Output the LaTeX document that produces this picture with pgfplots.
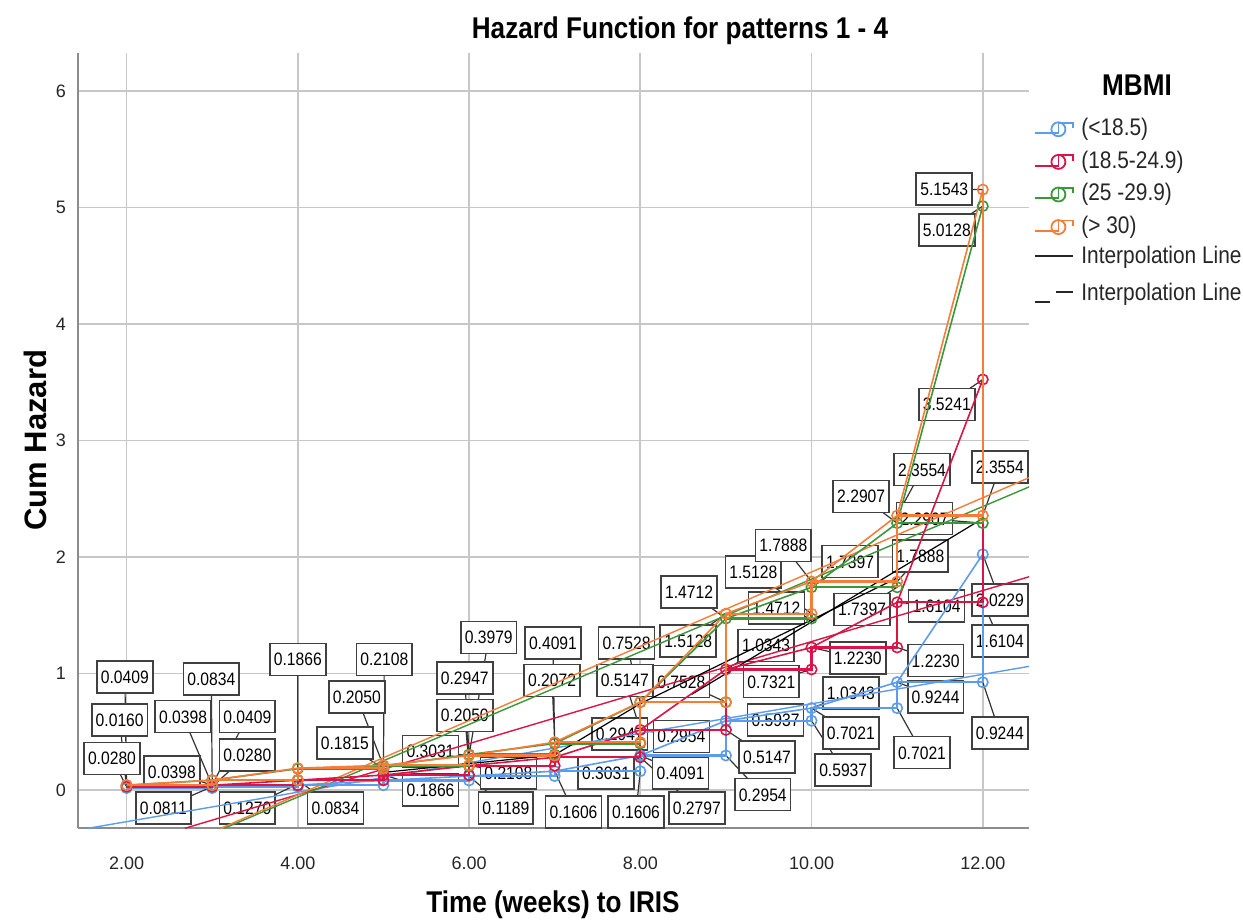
\documentclass[border=0pt]{standalone}
\usepackage{fontspec}
\setmainfont{Liberation Sans}[FakeStretch=0.87]
\newfontfamily\plainfont{Liberation Sans}
\usepackage{pgfplots}
\pgfplotsset{compat=1.18}
\definecolor{cB}{RGB}{93,156,236}
\definecolor{cR}{RGB}{220,20,70}
\definecolor{cG}{RGB}{60,150,60}
\definecolor{cO}{RGB}{245,125,55}
\tikzset{lb/.style={draw=black!75, line width=0.8pt, fill=white,
  font=\fontsize{9}{9}\selectfont, inner xsep=2pt, inner ysep=0pt,
  minimum height=16pt, text height=6.5pt, text depth=0pt}}
\begin{document}
\begin{tikzpicture}
\path[use as bounding box] (-39pt,-46.85pt) rectangle (582.5pt,414.15pt);
\begin{axis}[
  at={(0pt,0pt)}, anchor=south west,
  scale only axis, width=475.5pt, height=387.8pt,
  xmin=1.433, xmax=12.54, ymin=-0.33, ymax=6.33,
  axis x line*=bottom, axis y line*=left,
  axis line style={-, draw=black!45, line width=1pt},
  xtick={2,4,6,8,10,12}, xticklabels={2.00,4.00,6.00,8.00,10.00,12.00},
  ytick={0,1,2,3,4,5,6}, yticklabels={0,1,2,3,4,5,6},
  major tick length=0pt,
  grid=major, major grid style={draw=black!22, line width=0.9pt},
  tick label style={font=\plainfont\fontsize{9}{9}\selectfont, text=black!85},
  xticklabel style={yshift=-11pt},
  yticklabel style={xshift=-2.5pt},
  clip mode=individual,
  /pgf/number format/assume math mode=true,
]
% leader lines (label -> point)
\addplot[black!80, line width=0.6pt, forget plot, unbounded coords=jump] coordinates {
(1.98,0.97)(2,0.0409) (2,nan)
(1.92,0.60)(2,0.016) (2,nan)
(1.83,0.27)(2,0.028) (2,nan)
(2.53,0.155)(3,0.0398) (2,nan)
(2.43,-0.155)(3,0.028) (2,nan)
(2.99,0.95)(3,0.0834) (2,nan)
(2.66,0.63)(3,0.0398) (2,nan)
(3.41,0.63)(3,0.0409) (2,nan)
(3.41,0.30)(3,0.028) (2,nan)
(3.41,-0.155)(4,0.05) (2,nan)
(4.00,1.12)(4,0.1866) (2,nan)
(4.44,-0.155)(4,0.0834) (2,nan)
(5.01,1.12)(5,0.2108) (2,nan)
(4.69,0.80)(5,0.2050) (2,nan)
(4.55,0.40)(5,0.1815) (2,nan)
(5.55,0.33)(6,0.2947) (2,nan)
(5.55,0.0)(5,0.13) (2,nan)
(6.23,1.31)(6,0.2947) (2,nan)
(5.95,0.96)(6,0.30) (2,nan)
(5.95,0.64)(6,0.2050) (2,nan)
(6.46,0.146)(6,0.2108) (2,nan)
(6.43,-0.155)(6,0.1189) (2,nan)
(6.98,1.26)(7,0.4091) (2,nan)
(6.97,0.94)(7,0.4091) (2,nan)
(7.22,-0.19)(7,0.1606) (2,nan)
(7.84,1.26)(8,0.7528) (2,nan)
(7.82,0.94)(8,0.5147) (2,nan)
(7.76,0.48)(8,0.4091) (2,nan)
(7.60,0.146)(8,0.2797) (2,nan)
(7.95,-0.19)(8,0.1606) (2,nan)
(8.47,0.146)(8,0.2954) (2,nan)
(8.66,-0.155)(8,0.2797) (2,nan)
(8.48,0.46)(8,0.5147) (2,nan)
(8.48,0.93)(9,0.7528) (2,nan)
(8.56,1.28)(9,1.5128) (2,nan)
(8.57,1.70)(9,1.4712) (2,nan)
(9.32,1.87)(10,1.5128) (2,nan)
(9.59,1.56)(10,1.4712) (2,nan)
(9.47,1.24)(9,1.0343) (2,nan)
(9.53,0.93)(10,1.0343) (2,nan)
(9.58,0.60)(9,0.5937) (2,nan)
(9.48,0.28)(9,0.5147) (2,nan)
(9.43,-0.04)(9,0.2954) (2,nan)
(9.67,2.10)(10,1.7888) (2,nan)
(10.45,1.96)(10,1.7397) (2,nan)
(10.59,1.55)(11,1.7397) (2,nan)
(10.54,1.13)(10,1.2230) (2,nan)
(10.46,0.83)(10,0.7021) (2,nan)
(10.46,0.49)(10,0.7021) (2,nan)
(10.37,0.17)(10,0.5937) (2,nan)
(10.58,2.52)(11,2.2907) (2,nan)
(11.29,2.75)(11,2.3554) (2,nan)
(11.32,2.33)(12,2.2907) (2,nan)
(11.27,2.01)(11,1.7888) (2,nan)
(11.46,1.58)(11,1.6104) (2,nan)
(11.45,1.11)(11,1.2230) (2,nan)
(11.45,0.80)(11,0.9244) (2,nan)
(11.29,0.32)(11,0.7021) (2,nan)
(11.55,5.16)(12,5.1543) (2,nan)
(11.58,4.81)(12,5.0128) (2,nan)
(11.58,3.31)(12,3.5241) (2,nan)
(12.20,2.77)(12,2.3554) (2,nan)
(12.20,1.63)(12,2.0229) (2,nan)
(12.20,1.28)(12,1.6104) (2,nan)
(12.20,0.49)(12,0.9244)
};
% value labels
\node[lb] at (axis cs:1.98,0.97) {0.0409};
\node[lb] at (axis cs:1.92,0.60) {0.0160};
\node[lb] at (axis cs:1.83,0.27) {0.0280};
\node[lb] at (axis cs:2.53,0.155) {0.0398};
\node[lb] at (axis cs:2.43,-0.155) {0.0811};
\node[lb] at (axis cs:2.99,0.95) {0.0834};
\node[lb] at (axis cs:2.66,0.63) {0.0398};
\node[lb] at (axis cs:3.41,0.63) {0.0409};
\node[lb] at (axis cs:3.41,0.30) {0.0280};
\node[lb] at (axis cs:3.41,-0.155) {0.1270};
\node[lb] at (axis cs:4.00,1.12) {0.1866};
\node[lb] at (axis cs:4.44,-0.155) {0.0834};
\node[lb] at (axis cs:5.01,1.12) {0.2108};
\node[lb] at (axis cs:4.69,0.80) {0.2050};
\node[lb] at (axis cs:4.55,0.40) {0.1815};
\node[lb] at (axis cs:5.55,0.33) {0.3031};
\node[lb] at (axis cs:5.55,0.0) {0.1866};
\node[lb] at (axis cs:6.23,1.31) {0.3979};
\node[lb] at (axis cs:5.95,0.96) {0.2947};
\node[lb] at (axis cs:5.95,0.64) {0.2050};
\node[lb] at (axis cs:6.46,0.146) {0.2108};
\node[lb] at (axis cs:6.43,-0.155) {0.1189};
\node[lb] at (axis cs:6.98,1.26) {0.4091};
\node[lb] at (axis cs:6.97,0.94) {0.2072};
\node[lb] at (axis cs:7.22,-0.19) {0.1606};
\node[lb] at (axis cs:7.84,1.26) {0.7528};
\node[lb] at (axis cs:7.82,0.94) {0.5147};
\node[lb] at (axis cs:7.76,0.48) {0.2947};
\node[lb] at (axis cs:7.60,0.146) {0.3031};
\node[lb] at (axis cs:7.95,-0.19) {0.1606};
\node[lb] at (axis cs:8.47,0.146) {0.4091};
\node[lb] at (axis cs:8.66,-0.155) {0.2797};
\node[lb] at (axis cs:8.48,0.46) {0.2954};
\node[lb] at (axis cs:8.48,0.93) {0.7528};
\node[lb] at (axis cs:8.56,1.28) {1.5128};
\node[lb] at (axis cs:8.57,1.70) {1.4712};
\node[lb] at (axis cs:9.32,1.87) {1.5128};
\node[lb] at (axis cs:9.59,1.56) {1.4712};
\node[lb] at (axis cs:9.47,1.24) {1.0343};
\node[lb] at (axis cs:9.53,0.93) {0.7321};
\node[lb] at (axis cs:9.58,0.60) {0.5937};
\node[lb] at (axis cs:9.48,0.28) {0.5147};
\node[lb] at (axis cs:9.43,-0.04) {0.2954};
\node[lb] at (axis cs:9.67,2.10) {1.7888};
\node[lb] at (axis cs:10.45,1.96) {1.7397};
\node[lb] at (axis cs:10.59,1.55) {1.7397};
\node[lb] at (axis cs:10.54,1.13) {1.2230};
\node[lb] at (axis cs:10.46,0.83) {1.0343};
\node[lb] at (axis cs:10.46,0.49) {0.7021};
\node[lb] at (axis cs:10.37,0.17) {0.5937};
\node[lb] at (axis cs:10.58,2.52) {2.2907};
\node[lb] at (axis cs:11.29,2.75) {2.3554};
\node[lb] at (axis cs:11.32,2.33) {2.2907};
\node[lb] at (axis cs:11.27,2.01) {1.7888};
\node[lb] at (axis cs:11.46,1.58) {1.6104};
\node[lb] at (axis cs:11.45,1.11) {1.2230};
\node[lb] at (axis cs:11.45,0.80) {0.9244};
\node[lb] at (axis cs:11.29,0.32) {0.7021};
\node[lb] at (axis cs:11.55,5.16) {5.1543};
\node[lb] at (axis cs:11.58,4.81) {5.0128};
\node[lb] at (axis cs:11.58,3.31) {3.5241};
\node[lb] at (axis cs:12.20,2.77) {2.3554};
\node[lb] at (axis cs:12.20,1.63) {2.0229};
\node[lb] at (axis cs:12.20,1.28) {1.6104};
\node[lb] at (axis cs:12.20,0.49) {0.9244};
% fitted straight lines
\addplot[cB, line width=0.7pt, forget plot] coordinates {(1.55,-0.33)(12.6,1.068)};
\addplot[cR, line width=0.7pt, forget plot] coordinates {(2.68,-0.33)(12.6,1.843)};
\addplot[cG, line width=0.7pt, forget plot] coordinates {(3.14,-0.33)(12.6,2.62)};
\addplot[cO, line width=0.7pt, forget plot] coordinates {(3.10,-0.33)(12.6,2.70)};
% black interpolation lines
\addplot[black, line width=0.6pt, forget plot] coordinates {(5.0,0.15)(7.0,0.30)(8.0,0.74)(11.0,1.82)};
\addplot[black, line width=0.6pt, forget plot] coordinates {(8.6,0.82)(12.0,2.33)};
% interpolation between event points
\addplot[cB, line width=0.8pt, forget plot] coordinates {(2,0.0160)(3,0.0280)(4,0.0409)(5,0.0811)(6,0.1189)(7,0.1606)(8,0.2954)(9,0.5937)(10,0.7021)(11,0.9244)(12,2.0229)};
\addplot[cR, line width=0.8pt, forget plot] coordinates {(2,0.0280)(3,0.0398)(4,0.0834)(5,0.1270)(6,0.2072)(7,0.2797)(8,0.5147)(9,1.0343)(10,1.2230)(11,1.6104)(12,3.5241)};
\addplot[cG, line width=0.8pt, forget plot] coordinates {(2,0.0398)(3,0.0834)(4,0.1815)(5,0.2050)(6,0.3031)(7,0.3979)(8,0.7528)(9,1.4712)(10,1.7397)(11,2.2907)(12,5.0128)};
\addplot[cO, line width=0.8pt, forget plot] coordinates {(2,0.0409)(3,0.0834)(4,0.1866)(5,0.2108)(6,0.2947)(7,0.4091)(8,0.7528)(9,1.5128)(10,1.7888)(11,2.3554)(12,5.1543)};
% step functions with event markers
\addplot[cB, line width=1.1pt, mark=o, mark size=2.6pt, mark options={line width=0.8pt}, forget plot] coordinates {
(2,0.0160)(3,0.0160)(3,0.0280)(4,0.0280)(4,0.0409)(5,0.0409)(5,0.0811)(6,0.0811)(6,0.1189)(7,0.1189)(7,0.1606)(8,0.1606)(8,0.2954)(9,0.2954)(9,0.5937)(10,0.5937)(10,0.7021)(11,0.7021)(11,0.9244)(12,0.9244)(12,2.0229)};
\addplot[cR, line width=1.1pt, mark=o, mark size=2.6pt, mark options={line width=0.8pt}, forget plot] coordinates {
(2,0.0280)(3,0.0280)(3,0.0398)(4,0.0398)(4,0.0834)(5,0.0834)(5,0.1270)(6,0.1270)(6,0.2072)(7,0.2072)(7,0.2797)(8,0.2797)(8,0.5147)(9,0.5147)(9,1.0343)(10,1.0343)(10,1.2230)(11,1.2230)(11,1.6104)(12,1.6104)(12,3.5241)};
\addplot[cG, line width=1.1pt, mark=o, mark size=2.6pt, mark options={line width=0.8pt}, forget plot] coordinates {
(2,0.0398)(3,0.0398)(3,0.0834)(4,0.0834)(4,0.1815)(5,0.1815)(5,0.2050)(6,0.2050)(6,0.3031)(7,0.3031)(7,0.3979)(8,0.3979)(8,0.7528)(9,0.7528)(9,1.4712)(10,1.4712)(10,1.7397)(11,1.7397)(11,2.2907)(12,2.2907)(12,5.0128)};
\addplot[cO, line width=1.1pt, mark=o, mark size=2.6pt, mark options={line width=0.8pt}, forget plot] coordinates {
(2,0.0409)(3,0.0409)(3,0.0834)(4,0.0834)(4,0.1866)(5,0.1866)(5,0.2108)(6,0.2108)(6,0.2947)(7,0.2947)(7,0.4091)(8,0.4091)(8,0.7528)(9,0.7528)(9,1.5128)(10,1.5128)(10,1.7888)(11,1.7888)(11,2.3554)(12,2.3554)(12,5.1543)};
\end{axis}
% titles
\node[font=\bfseries\fontsize{15}{15}\selectfont] at (301pt,399pt) {Hazard Function for patterns 1 - 4};
\node[font=\bfseries\fontsize{15}{15}\selectfont] at (237.5pt,-38.4pt) {Time (weeks) to IRIS};
\node[font=\plainfont\bfseries\fontsize{15.5}{15.5}\selectfont, rotate=90] at (-21.5pt,194pt) {Cum Hazard};
% legend
\node[font=\bfseries\fontsize{15}{15}\selectfont] at (529.5pt,371.6pt) {MBMI};
\foreach \c/\yy/\t in {cB/349.5/{(<18.5)}, cR/333.2/{(18.5-24.9)}, cG/316.9/{(25 -29.9)}, cO/300.6/{(> 30)}}{
  \begin{scope}[yshift=\yy pt]
    \draw[\c, line width=0.9pt] (478.5pt,-1.9pt) -- (490.2pt,-1.9pt) -- (490.2pt,3.3pt) -- (497.5pt,3.3pt) -- (497.5pt,0.6pt);
    \draw[\c, line width=0.9pt] (490.2pt,0pt) circle (3.5pt);
    \node[anchor=west, inner sep=0pt, font=\fontsize{12}{12}\selectfont, text=black!85] at (501.5pt,0pt) {\t};
  \end{scope}
}
\draw[black!85, line width=0.9pt] (478.5pt,286.2pt) -- (497.5pt,286.2pt);
\node[anchor=west, inner sep=0pt, font=\fontsize{12}{12}\selectfont, text=black!85] at (501.5pt,285.5pt) {Interpolation Line};
\draw[black!85, line width=0.9pt] (478.5pt,263pt) -- (486pt,263pt);
\draw[black!85, line width=0.9pt] (489pt,268pt) -- (497.5pt,268pt);
\node[anchor=west, inner sep=0pt, font=\fontsize{12}{12}\selectfont, text=black!85] at (501.5pt,267.2pt) {Interpolation Line};
\end{tikzpicture}
\end{document}
